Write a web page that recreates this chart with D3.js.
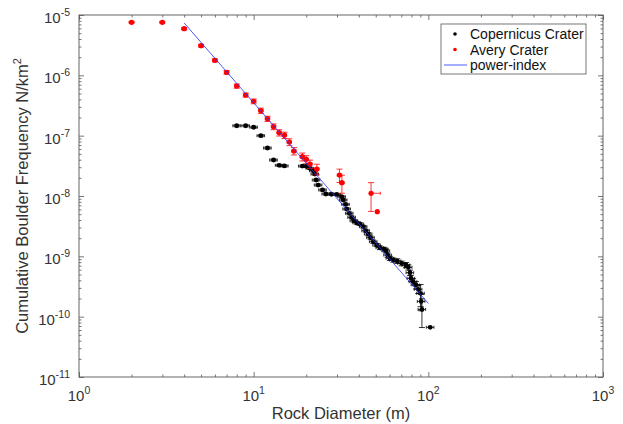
<!DOCTYPE html>
<html>
<head>
<meta charset="utf-8">
<script src="https://cdn.jsdelivr.net/npm/d3@7"></script>
<style>
  body { margin: 0; background: #fff; }
  svg { display: block; font-family: "Liberation Sans", Arial, Helvetica, sans-serif; }
</style>
</head>
<body>
<div class="chart"></div>
<script>
// Copernicus Crater (black)
const copD = [8, 9, 10, 11, 12, 13, 14, 15, 19, 20, 21, 22, 22.4, 22.8, 23.4, 24.8, 25.9, 27.9, 29.9,
  31.9, 32.6, 33.6, 34.1, 35.3, 36.4, 37.5, 38.9, 40.6, 42.4, 43.8, 45.3, 46.7, 48.4, 50.6, 52.8,
  55.9, 57.2, 58.5, 60.3, 63, 66.4, 70.3, 74.5, 76.8, 78.5, 79.5, 81.9, 84.9, 87.5, 90.3, 91, 91.9, 102.5];
const copN = [1.46e-7, 1.46e-7, 1.38e-7, 9.98e-8, 6.24e-8, 3.95e-8, 3.23e-8, 3.15e-8, 3.13e-8, 3.1e-8,
  2.88e-8, 2.62e-8, 2.31e-8, 1.84e-8, 1.52e-8, 1.26e-8, 1.08e-8, 1.07e-8, 1.06e-8,
  9.73e-9, 8.58e-9, 7.28e-9, 6.09e-9, 5.16e-9, 4.43e-9, 3.89e-9, 3.6e-9, 3.43e-9, 3.1e-9, 2.66e-9,
  2.34e-9, 2.04e-9, 1.75e-9, 1.54e-9, 1.39e-9, 1.32e-9, 1.23e-9, 1.05e-9, 9.27e-10, 8.69e-10,
  8.36e-10, 7.65e-10, 7.18e-10, 6.58e-10, 5.36e-10, 4.33e-10, 3.8e-10, 3.35e-10, 2.84e-10,
  2.44e-10, 1.79e-10, 1.32e-10, 6.67e-11];
// relative vertical error (fraction of value)
const copErr = [0.04, 0.04, 0.04, 0.04, 0.04, 0.04, 0.04, 0.04, 0.04, 0.04, 0.04, 0.04, 0.04, 0.04, 0.04,
  0.04, 0.04, 0.04, 0.04, 0.04, 0.04, 0.04, 0.04, 0.05, 0.05, 0.05, 0.05, 0.05, 0.05, 0.05, 0.06,
  0.06, 0.06, 0.06, 0.07, 0.07, 0.07, 0.08, 0.08, 0.08, 0.09, 0.09, 0.1, 0.1, 0.1, 0.12, 0.12,
  0.14, 0.15, 0.4, 0.3, 0.5, 0];
const copXErrLo = 0.05;
const copXErrHi = 0.05;

// Avery Crater (red)
const averyD = [2, 3, 4, 5, 6, 7, 8, 9, 10, 11, 12, 13, 14, 15, 16, 17, 19, 20, 21, 23, 31, 32, 47, 51];
const averyN = [7.57e-6, 7.57e-6, 5.93e-6, 3.1e-6, 1.77e-6, 1.12e-6, 6.65e-7, 4.72e-7, 3.71e-7, 2.6e-7,
  1.91e-7, 1.41e-7, 1.12e-7, 1.02e-7, 7.85e-8, 5.57e-8, 4.48e-8, 4.05e-8, 3.39e-8, 2.8e-8,
  2.23e-8, 1.66e-8, 1.11e-8, 5.5e-9];
const averyErr = [0.02, 0.02, 0.04, 0.05, 0.06, 0.07, 0.08, 0.08, 0.09, 0.1, 0.1, 0.11, 0.12, 0.12,
  0.13, 0.14, 0.15, 0.15, 0.16, 0.2, 0.25, 0.33, 0.5, 0];
const averyXErrLo = [0.03, 0.03, 0.03, 0.03, 0.03, 0.03, 0.03, 0.03, 0.03, 0.03, 0.03, 0.03, 0.03, 0.03,
  0.03, 0.03, 0.03, 0.03, 0.03, 0.03, 0.03, 0.03, 0.015, 0];
const averyXErrHi = [0.03, 0.03, 0.03, 0.03, 0.03, 0.03, 0.03, 0.03, 0.03, 0.03, 0.03, 0.03, 0.03, 0.03,
  0.03, 0.03, 0.03, 0.03, 0.03, 0.03, 0.03, 0.03, 0.13, 0];

// power-index fit line end points
const powerD = [4, 100];
const powerN = [7.37e-6, 1.66e-10];

// tick labels
const xTicks = [1, 10, 100, 1000];
const xTickExp = ['0', '1', '2', '3'];
const yTicks = [1e-5, 1e-6, 1e-7, 1e-8, 1e-9, 1e-10, 1e-11];
const yTickExp = ['-5', '-6', '-7', '-8', '-9', '-10', '-11'];

const W = 623, H = 424;
const box = {left: 79, right: 603, top: 15, bottom: 377};

const svg = d3.select('.chart').append('svg')
  .attr('width', W)
  .attr('height', H);

const x = d3.scaleLog().domain([1, 1000]).range([box.left, box.right]);
const y = d3.scaleLog().domain([1e-11, 1e-5]).range([box.bottom, box.top]);

const axisColor = '#555';
const textColor = '#333';

// ticks on all four sides, pointing inward
function styleAxis(g) {
  g.select('.domain').remove();
  g.selectAll('.tick line').attr('stroke', axisColor).attr('stroke-width', 0.8);
  g.selectAll('.tick text').remove();
}
const isMajor = d => Math.abs(Math.log10(d) - Math.round(Math.log10(d))) < 1e-9;
const xMinor = x.ticks().filter(d => !isMajor(d));
const yMinor = y.ticks().filter(d => !isMajor(d));

[[d3.axisBottom, box.bottom], [d3.axisTop, box.top]].forEach(([ax, ty]) => {
  svg.append('g').attr('transform', 'translate(0,' + ty + ')')
    .call(ax(x).tickValues(xMinor).tickSize(-2.5)).call(styleAxis);
  svg.append('g').attr('transform', 'translate(0,' + ty + ')')
    .call(ax(x).tickValues(xTicks).tickSize(-5)).call(styleAxis);
});
[[d3.axisLeft, box.left], [d3.axisRight, box.right]].forEach(([ax, tx]) => {
  svg.append('g').attr('transform', 'translate(' + tx + ',0)')
    .call(ax(y).tickValues(yMinor).tickSize(-2.5)).call(styleAxis);
  svg.append('g').attr('transform', 'translate(' + tx + ',0)')
    .call(ax(y).tickValues(yTicks).tickSize(-5)).call(styleAxis);
});

// box
svg.append('rect')
  .attr('x', box.left).attr('y', box.top)
  .attr('width', box.right - box.left).attr('height', box.bottom - box.top)
  .attr('fill', 'none').attr('stroke', axisColor).attr('stroke-width', 0.9);

// tick labels
xTicks.forEach((v, i) => {
  const t = svg.append('text')
    .attr('x', x(v)).attr('y', 401)
    .attr('text-anchor', 'middle')
    .attr('fill', textColor).attr('font-size', 15);
  t.append('tspan').text('10');
  t.append('tspan').attr('dy', -7).attr('font-size', 10.5).text(xTickExp[i]);
});
yTicks.forEach((v, i) => {
  const t = svg.append('text')
    .attr('x', 70).attr('y', y(v) + 8)
    .attr('text-anchor', 'end')
    .attr('fill', textColor).attr('font-size', 15);
  t.append('tspan').text('10');
  t.append('tspan').attr('dy', -7).attr('font-size', 10.5).text(yTickExp[i]);
});

// axis titles
svg.append('text')
  .attr('x', (box.left + box.right) / 2).attr('y', 419)
  .attr('text-anchor', 'middle')
  .attr('fill', textColor).attr('font-size', 16.5)
  .text('Rock Diameter (m)');

const yl = svg.append('text')
  .attr('transform', 'translate(28,' + ((box.top + box.bottom) / 2) + ') rotate(-90)')
  .attr('text-anchor', 'middle')
  .attr('fill', textColor).attr('font-size', 16.5);
yl.append('tspan').text('Cumulative Boulder Frequency N/km');
yl.append('tspan').attr('dy', -7).attr('font-size', 11).text('2');

// error bars + points
const pick = (a, i) => Array.isArray(a) ? a[i] : a;
function drawSeries(Ds, Ns, yErr, xLo, xHi, color, r, barW) {
  const g = svg.append('g');
  Ds.forEach((D, i) => {
    const v = Ns[i], e = yErr[i];
    const cx = x(D), cy = y(v);
    if (e > 0) {
      const y1 = y(v * (1 + e)), y0 = v * (1 - e) > 0 ? y(v * (1 - e)) : cy;
      g.append('line').attr('x1', cx).attr('x2', cx).attr('y1', y1).attr('y2', y0)
        .attr('stroke', color).attr('stroke-width', barW);
      [y1, y0].forEach(yy => g.append('line')
        .attr('x1', cx - 3).attr('x2', cx + 3).attr('y1', yy).attr('y2', yy)
        .attr('stroke', color).attr('stroke-width', barW));
    }
    const lo = pick(xLo, i), hi = pick(xHi, i);
    if (lo > 0 || hi > 0) {
      const xa = x(D * (1 - lo)), xb = x(D * (1 + hi));
      g.append('line').attr('x1', xa).attr('x2', xb).attr('y1', cy).attr('y2', cy)
        .attr('stroke', color).attr('stroke-width', barW);
      [xa, xb].forEach(xx => g.append('line')
        .attr('x1', xx).attr('x2', xx).attr('y1', cy - 1.5).attr('y2', cy + 1.5)
        .attr('stroke', color).attr('stroke-width', barW));
    }
  });
  g.selectAll('circle')
    .data(Ds.map((D, i) => [D, Ns[i]]))
    .enter().append('circle')
    .attr('cx', d => x(d[0]))
    .attr('cy', d => y(d[1]))
    .attr('r', r)
    .attr('fill', color);
}

drawSeries(copD, copN, copErr, copXErrLo, copXErrHi, '#000', 2.4, 0.8);
drawSeries(averyD, averyN, averyErr, averyXErrLo, averyXErrHi, '#ff0000', 2.6, 0.8);

// power-index line
svg.append('path')
  .datum(powerD.map((D, i) => [D, powerN[i]]))
  .attr('d', d3.line().x(d => x(d[0])).y(d => y(d[1])))
  .attr('fill', 'none')
  .attr('stroke', '#2233ff')
  .attr('stroke-opacity', 0.8)
  .attr('stroke-width', 1);

// legend
const lg = svg.append('g');
lg.append('rect')
  .attr('x', 441).attr('y', 24).attr('width', 145).attr('height', 50)
  .attr('fill', '#fff').attr('stroke', axisColor).attr('stroke-width', 0.8);
const legendItems = ['Copernicus Crater', 'Avery Crater', 'power-index'];
const legendColors = ['#000', '#ff0000', '#2233ff'];
legendItems.forEach((name, i) => {
  const ly = 34 + i * 15.5;
  if (i < 2) {
    lg.append('circle').attr('cx', 455).attr('cy', ly).attr('r', 1.8).attr('fill', legendColors[i]);
  } else {
    lg.append('line').attr('x1', 444).attr('x2', 467).attr('y1', ly).attr('y2', ly)
      .attr('stroke', legendColors[i]).attr('stroke-opacity', 0.8).attr('stroke-width', 1);
  }
  lg.append('text').attr('x', 470).attr('y', ly + 5)
    .attr('fill', '#111').attr('font-size', 14).text(name);
});
</script>
</body>
</html>
